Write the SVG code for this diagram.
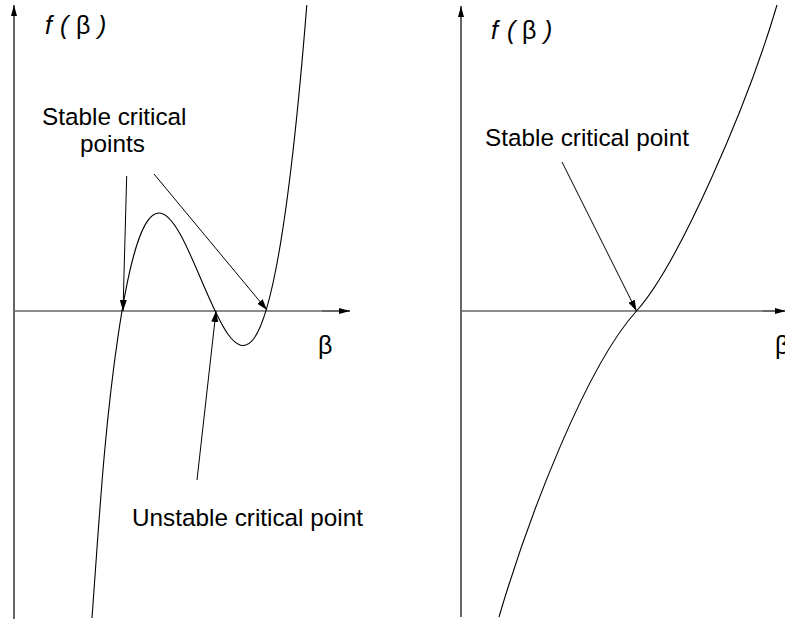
<svg xmlns="http://www.w3.org/2000/svg" width="785" height="619" viewBox="0 0 785 619">
<style>
.lbl{font-family:"Liberation Sans",Arial,sans-serif;font-size:24.3px;fill:#000}
.fl{font-family:"Liberation Sans",Arial,sans-serif;font-size:25px;fill:#000}
.it{font-style:italic}
.curve{fill:none;stroke:#000;stroke-width:1.1}
.axis{fill:none;stroke:#000;stroke-width:1.2}
.xaxis{fill:none;stroke:#666;stroke-width:1.6}
.ann{fill:none;stroke:#000;stroke-width:1}
</style>
<defs>
<marker id="ah" markerUnits="userSpaceOnUse" markerWidth="12" markerHeight="8" refX="11" refY="3.5" orient="auto">
<path d="M0,0 L11,3.5 L0,7 z" fill="#000"/>
</marker>
<marker id="axh" markerUnits="userSpaceOnUse" markerWidth="12" markerHeight="8" refX="11" refY="3" orient="auto">
<path d="M0,0 L11,3 L0,6 z" fill="#000"/>
</marker>
</defs>
<g id="left-axes">
<line class="axis" x1="14" y1="619" x2="14" y2="5" marker-end="url(#axh)"/>
<line class="xaxis" x1="14" y1="311" x2="322" y2="311"/>
<line class="axis" x1="322" y1="311" x2="350" y2="311" marker-end="url(#axh)"/>
</g>
<g id="right-axes">
<line class="axis" x1="461" y1="617" x2="461" y2="6" marker-end="url(#axh)"/>
<line class="xaxis" x1="461" y1="311" x2="762" y2="311"/>
<line class="axis" x1="762" y1="311" x2="786" y2="311" marker-end="url(#axh)"/>
</g>
<g id="left-curve">
<path class="curve" d="M92,618 C99,523 104,431.4 118,336.4 C180.93,-90.3 243.87,791.1 306.8,5.1"/>
</g>
<g id="right-curve">
<path class="curve" d="M499,617 C529,515 586.5,366 636.5,311 C678,265 747,107 777,5"/>
</g>
<g id="labels">
<text class="fl" y="34"><tspan class="it" x="45">f</tspan><tspan class="it" x="60">(</tspan><tspan x="76">β</tspan><tspan class="it" x="98">)</tspan></text>
<text class="fl" y="39"><tspan class="it" x="491">f</tspan><tspan class="it" x="507">(</tspan><tspan x="522">β</tspan><tspan class="it" x="544">)</tspan></text>
<text class="fl" x="318" y="354">β</text>
<text class="fl" x="775" y="354">β</text>
</g>
<g id="stable-left">
<text class="lbl" x="42" y="125">Stable critical</text>
<text class="lbl" x="80" y="152">points</text>
</g>
<g id="unstable">
<text class="lbl" x="132" y="526">Unstable critical point</text>
</g>
<g id="stable-right">
<text class="lbl" x="485" y="146">Stable critical point</text>
</g>
<g id="connectors">
<line class="ann" x1="126.7" y1="176" x2="123" y2="311" marker-end="url(#ah)"/>
<line class="ann" x1="154" y1="174" x2="267" y2="310" marker-end="url(#ah)"/>
<line class="ann" x1="197" y1="480" x2="216" y2="311" marker-end="url(#ah)"/>
<line class="ann" x1="562" y1="162" x2="636.5" y2="311" marker-end="url(#ah)"/>
</g>
</svg>
